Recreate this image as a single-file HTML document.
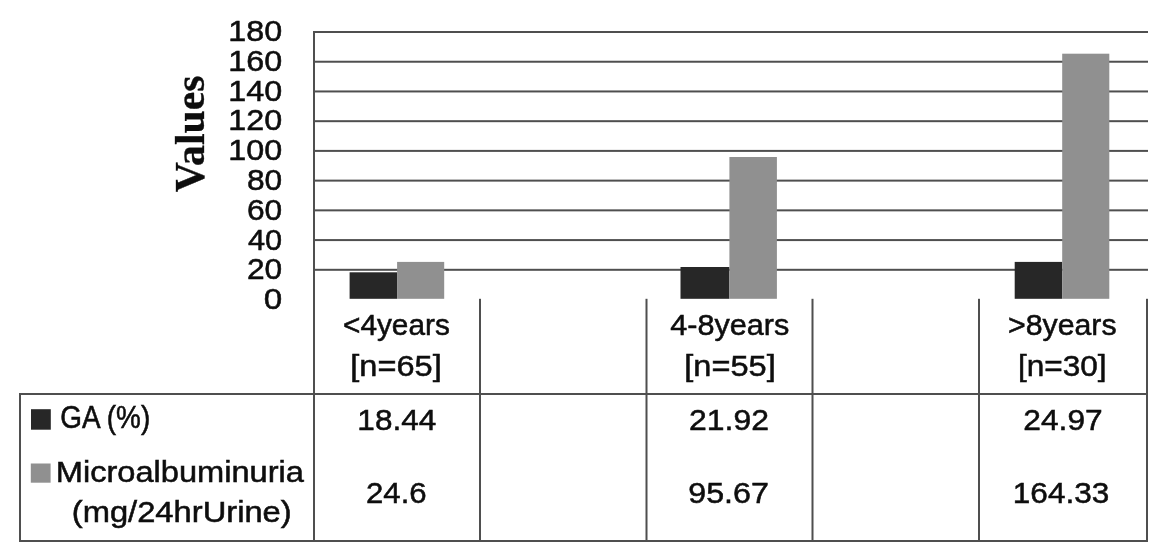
<!DOCTYPE html>
<html lang="en"><head><meta charset="utf-8"><title>Chart</title>
<style>html,body{margin:0;padding:0;background:#fff;overflow:hidden}svg{display:block}text{font-family:"Liberation Sans",sans-serif;fill:#0a0a0a;stroke:#0a0a0a;stroke-width:0.5;font-size:30.3px}.v{font-family:"Liberation Serif",serif;font-weight:bold;font-size:43px;stroke-width:0.3}</style></head><body>
<svg width="1163" height="548" viewBox="0 0 1163 548">
<rect width="1163" height="548" fill="#fff"/>
<defs><filter id="b" x="-5%" y="-5%" width="110%" height="110%"><feGaussianBlur stdDeviation="0.4"/></filter></defs>
<rect x="313" y="31.00" width="835" height="2" fill="#4f4f4f"/>
<rect x="313" y="60.73" width="835" height="2" fill="#4f4f4f"/>
<rect x="313" y="90.45" width="835" height="2" fill="#4f4f4f"/>
<rect x="313" y="120.18" width="835" height="2" fill="#4f4f4f"/>
<rect x="313" y="149.90" width="835" height="2" fill="#4f4f4f"/>
<rect x="313" y="179.62" width="835" height="2" fill="#4f4f4f"/>
<rect x="313" y="209.35" width="835" height="2" fill="#4f4f4f"/>
<rect x="313" y="239.08" width="835" height="2" fill="#4f4f4f"/>
<rect x="313" y="268.80" width="835" height="2" fill="#4f4f4f"/>
<rect x="349.6" y="272.3" width="47.5" height="26.5" fill="#272727"/>
<rect x="397.1" y="261.9" width="47.1" height="36.9" fill="#909090"/>
<rect x="680.5" y="267.0" width="48.9" height="31.8" fill="#272727"/>
<rect x="729.4" y="157.0" width="47.5" height="141.8" fill="#909090"/>
<rect x="1014.7" y="261.9" width="47.5" height="36.9" fill="#272727"/>
<rect x="1062.2" y="53.7" width="47.1" height="245.1" fill="#909090"/>
<rect x="313" y="31" width="2" height="511" fill="#4f4f4f"/>
<rect x="479.0" y="298.8" width="2" height="243.2" fill="#4f4f4f"/>
<rect x="645.5" y="298.8" width="2" height="243.2" fill="#4f4f4f"/>
<rect x="811.5" y="298.8" width="2" height="243.2" fill="#4f4f4f"/>
<rect x="978.0" y="298.8" width="2" height="243.2" fill="#4f4f4f"/>
<rect x="1146.0" y="298.8" width="2" height="243.2" fill="#4f4f4f"/>
<rect x="19" y="393" width="2" height="149" fill="#4f4f4f"/>
<rect x="19" y="393" width="1129" height="2" fill="#4f4f4f"/>
<rect x="19" y="540" width="1129" height="2" fill="#4f4f4f"/>
<rect x="31" y="409.2" width="19.8" height="20.5" fill="#272727"/>
<rect x="30.8" y="463.5" width="19.8" height="19.2" fill="#909090"/>
<g filter="url(#b)">
<text x="228.25" y="41.0" textLength="53.96" lengthAdjust="spacingAndGlyphs">180</text>
<text x="228.25" y="70.8" textLength="53.96" lengthAdjust="spacingAndGlyphs">160</text>
<text x="228.25" y="100.6" textLength="53.96" lengthAdjust="spacingAndGlyphs">140</text>
<text x="228.25" y="130.4" textLength="53.96" lengthAdjust="spacingAndGlyphs">120</text>
<text x="228.25" y="160.2" textLength="53.96" lengthAdjust="spacingAndGlyphs">100</text>
<text x="246.95" y="190.0" textLength="35.28" lengthAdjust="spacingAndGlyphs">80</text>
<text x="246.95" y="219.8" textLength="35.28" lengthAdjust="spacingAndGlyphs">60</text>
<text x="248.00" y="249.6" textLength="34.21" lengthAdjust="spacingAndGlyphs">40</text>
<text x="246.95" y="279.4" textLength="35.28" lengthAdjust="spacingAndGlyphs">20</text>
<text x="263.89" y="309.2" textLength="18.48" lengthAdjust="spacingAndGlyphs">0</text>
<text x="343.03" y="335.2" style="font-size:29.8px" textLength="106.81" lengthAdjust="spacingAndGlyphs">&lt;4years</text>
<text x="350.33" y="375.6" textLength="91.34" lengthAdjust="spacingAndGlyphs">[n=65]</text>
<text x="670.17" y="335.2" style="font-size:29.8px" textLength="119.16" lengthAdjust="spacingAndGlyphs">4-8years</text>
<text x="684.33" y="375.6" textLength="91.34" lengthAdjust="spacingAndGlyphs">[n=55]</text>
<text x="1008.05" y="335.2" style="font-size:29.8px" textLength="108.49" lengthAdjust="spacingAndGlyphs">&gt;8years</text>
<text x="1017.95" y="375.6" textLength="88.67" lengthAdjust="spacingAndGlyphs">[n=30]</text>
<text x="357.38" y="429.8" textLength="78.78" lengthAdjust="spacingAndGlyphs">18.44</text>
<text x="366.00" y="503.2" textLength="60.66" lengthAdjust="spacingAndGlyphs">24.6</text>
<text x="689.09" y="429.8" textLength="79.91" lengthAdjust="spacingAndGlyphs">21.92</text>
<text x="688.31" y="503.2" textLength="80.61" lengthAdjust="spacingAndGlyphs">95.67</text>
<text x="1023.39" y="429.8" textLength="79.30" lengthAdjust="spacingAndGlyphs">24.97</text>
<text x="1012.83" y="503.2" textLength="96.43" lengthAdjust="spacingAndGlyphs">164.33</text>
<text x="60.27" y="428.0" style="font-size:30.8px" textLength="89.92" lengthAdjust="spacingAndGlyphs">GA (%)</text>
<text x="55.76" y="482.2" style="font-size:29.3px" textLength="248.24" lengthAdjust="spacingAndGlyphs">Microalbuminuria</text>
<text x="71.76" y="522.2" style="font-size:29.6px" textLength="219.97" lengthAdjust="spacingAndGlyphs">(mg/24hrUrine)</text>
<text class="v" transform="translate(204.1,192.2) rotate(-90)" textLength="116.8" lengthAdjust="spacingAndGlyphs">Values</text>
</g>
</svg></body></html>
